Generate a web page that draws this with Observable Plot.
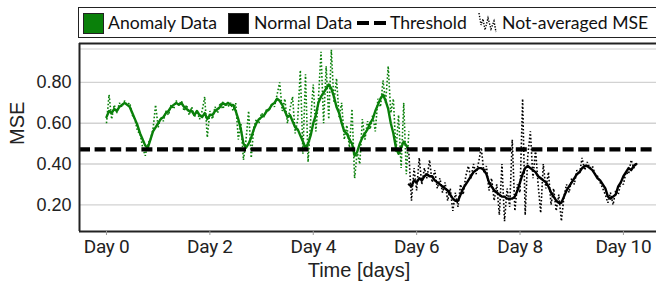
<!DOCTYPE html>
<html>
<head>
<meta charset="utf-8">
<script src="https://cdn.jsdelivr.net/npm/d3@7"></script>
<script src="https://cdn.jsdelivr.net/npm/@observablehq/plot@0.6"></script>
<style>
  html, body { margin: 0; padding: 0; background: #fff; }
  #wrap { width: 656px; height: 287px; overflow: hidden; position: relative; }
  #legend { position: relative; width: 656px; height: 40px; overflow: hidden; font-family: Lato, "Open Sans", sans-serif; color: #111; }
  #legend .box { position: absolute; left: 78px; top: 7px; width: 700px; height: 29px; border: 1.5px solid #222; }
  #legend .sw { position: absolute; top: 12.5px; width: 18.5px; height: 19.5px; border: 1px solid #222; }
  #legend .lbl { position: absolute; top: 13.6px; font-size: 17.6px; line-height: 18px; white-space: nowrap; }
  #legend svg { position: absolute; }
  .chart text { font-family: "Liberation Sans", Arial, sans-serif; }
  .chart g[aria-label="x-axis tick label"] text { font-family: Roboto, "Liberation Sans", sans-serif; font-size: 19px; fill: #222; letter-spacing: -0.3px; }
  .chart g[aria-label="y-axis tick label"] text { font-family: "Liberation Sans", Arial, sans-serif; font-size: 18px; fill: #222; }
</style>
</head>
<body>
<div id="wrap">
  <div id="legend"></div>
  <div id="chart"></div>
</div>
<script>
// ---------- data ----------
const anomalyDays = [0.00,0.05,0.10,0.15,0.20,0.25,0.30,0.35,0.40,0.45,0.50,0.55,0.60,0.65,0.70,0.75,0.80,0.85,0.90,0.95,1.00,1.05,1.10,1.15,1.20,1.25,1.30,1.35,1.40,1.45,1.50,1.55,1.60,1.65,1.70,1.75,1.80,1.85,1.90,1.95,2.00,2.05,2.10,2.15,2.20,2.25,2.30,2.35,2.40,2.45,2.50,2.55,2.60,2.65,2.70,2.75,2.80,2.85,2.90,2.95,3.00,3.05,3.10,3.15,3.20,3.25,3.30,3.35,3.40,3.45,3.50,3.55,3.60,3.65,3.70,3.75,3.80,3.85,3.90,3.95,4.00,4.05,4.10,4.15,4.20,4.25,4.30,4.35,4.40,4.45,4.50,4.55,4.60,4.65,4.70,4.75,4.80,4.85,4.90,4.95,5.00,5.05,5.10,5.15,5.20,5.25,5.30,5.35,5.40,5.45,5.50,5.55,5.60,5.65,5.70,5.75,5.80,5.85];
const anomalyAvg = [0.63,0.66,0.65,0.67,0.66,0.68,0.69,0.70,0.69,0.68,0.65,0.62,0.59,0.55,0.52,0.49,0.48,0.52,0.56,0.58,0.60,0.62,0.63,0.65,0.66,0.68,0.69,0.70,0.69,0.70,0.68,0.67,0.66,0.66,0.64,0.66,0.64,0.63,0.65,0.62,0.64,0.64,0.66,0.67,0.68,0.70,0.69,0.70,0.69,0.69,0.66,0.62,0.57,0.50,0.48,0.50,0.53,0.57,0.60,0.62,0.63,0.64,0.66,0.67,0.69,0.70,0.72,0.71,0.69,0.66,0.63,0.64,0.61,0.58,0.57,0.54,0.51,0.48,0.50,0.54,0.60,0.64,0.70,0.73,0.75,0.77,0.79,0.77,0.73,0.68,0.65,0.60,0.56,0.55,0.52,0.50,0.44,0.46,0.50,0.53,0.55,0.57,0.60,0.62,0.66,0.69,0.72,0.74,0.71,0.67,0.60,0.55,0.48,0.45,0.48,0.51,0.49,0.47];
const anomalyRaw = [0.60,0.74,0.62,0.69,0.65,0.70,0.68,0.71,0.69,0.70,0.64,0.62,0.56,0.55,0.48,0.44,0.50,0.52,0.57,0.69,0.58,0.63,0.61,0.66,0.64,0.69,0.67,0.71,0.69,0.71,0.66,0.69,0.64,0.68,0.63,0.66,0.62,0.66,0.73,0.53,0.66,0.62,0.68,0.65,0.70,0.67,0.70,0.68,0.70,0.66,0.70,0.52,0.60,0.42,0.52,0.66,0.43,0.58,0.62,0.60,0.65,0.63,0.67,0.66,0.70,0.68,0.74,0.80,0.66,0.72,0.60,0.67,0.73,0.55,0.62,0.86,0.45,0.84,0.41,0.62,0.79,0.56,0.72,0.95,0.60,0.88,0.62,0.96,0.70,0.82,0.63,0.70,0.52,0.59,0.48,0.67,0.33,0.46,0.40,0.62,0.52,0.61,0.57,0.64,0.56,0.72,0.68,0.81,0.70,0.88,0.65,0.72,0.46,0.64,0.38,0.70,0.35,0.56];

const normalDays = [5.85,5.90,5.95,6.00,6.05,6.10,6.15,6.20,6.25,6.30,6.35,6.40,6.45,6.50,6.55,6.60,6.65,6.70,6.75,6.80,6.85,6.90,6.95,7.00,7.05,7.10,7.15,7.20,7.25,7.30,7.35,7.40,7.45,7.50,7.55,7.60,7.65,7.70,7.75,7.80,7.85,7.90,7.95,8.00,8.05,8.10,8.15,8.20,8.25,8.30,8.35,8.40,8.45,8.50,8.55,8.60,8.65,8.70,8.75,8.80,8.85,8.90,8.95,9.00,9.05,9.10,9.15,9.20,9.25,9.30,9.35,9.40,9.45,9.50,9.55,9.60,9.65,9.70,9.75,9.80,9.85,9.90,9.95,10.00,10.05,10.10,10.15,10.20,10.25];
const normalAvg = [0.30,0.29,0.32,0.31,0.33,0.32,0.34,0.35,0.34,0.34,0.32,0.31,0.30,0.29,0.28,0.27,0.25,0.23,0.22,0.22,0.25,0.28,0.30,0.32,0.34,0.36,0.37,0.38,0.38,0.37,0.35,0.31,0.29,0.27,0.26,0.25,0.24,0.24,0.23,0.23,0.23,0.24,0.27,0.31,0.35,0.38,0.39,0.38,0.37,0.36,0.34,0.33,0.32,0.31,0.29,0.26,0.24,0.22,0.21,0.21,0.24,0.27,0.29,0.31,0.33,0.35,0.36,0.38,0.39,0.39,0.38,0.37,0.35,0.33,0.32,0.30,0.28,0.24,0.23,0.24,0.25,0.29,0.31,0.34,0.36,0.38,0.37,0.39,0.40];
const normalRaw = [0.45,0.22,0.38,0.27,0.43,0.30,0.38,0.33,0.42,0.31,0.37,0.28,0.33,0.26,0.31,0.22,0.28,0.17,0.26,0.19,0.30,0.25,0.34,0.39,0.33,0.40,0.35,0.41,0.48,0.36,0.39,0.27,0.33,0.22,0.30,0.15,0.40,0.12,0.28,0.19,0.52,0.17,0.30,0.26,0.72,0.15,0.44,0.56,0.33,0.47,0.30,0.16,0.40,0.28,0.36,0.20,0.28,0.17,0.25,0.12,0.24,0.30,0.26,0.33,0.30,0.37,0.35,0.43,0.37,0.41,0.38,0.39,0.35,0.34,0.31,0.28,0.25,0.21,0.26,0.20,0.27,0.25,0.31,0.30,0.36,0.35,0.42,0.38,0.41];

const threshold = 0.472;
const dayTicks = [0, 2, 4, 6, 8, 10];
const mseTicks = [0.2, 0.4, 0.6, 0.8];
const seriesNames = ["Anomaly Data", "Normal Data", "Threshold", "Not-averaged MSE"];
const xLabel = "Time [days]";
const yLabel = "MSE";

// ---------- styles ----------
const GREEN = "#0a800a";
const BLACK = "#000";
const xDomain = [-0.522, 10.64];
const yDomain = [0.069, 0.991];

const zip = (xs, ys) => xs.map((x, i) => ({x, y: ys[i]}));
const aAvg = zip(anomalyDays, anomalyAvg);
const nAvg = zip(normalDays, normalAvg);
const aRaw = zip(anomalyDays, anomalyRaw);
const nRaw = zip(normalDays, normalRaw);

const dotted = {strokeWidth: 1.6, strokeDasharray: "1.6,2", strokeLinecap: "butt", strokeLinejoin: "miter"};

const chart = Plot.plot({
  width: 656,
  height: 247,
  marginLeft: 79,
  marginRight: 0,
  marginTop: 3,
  marginBottom: 56,
  className: "chart",
  style: {background: "#fff", overflow: "visible", fontFamily: "'Liberation Sans', Arial, sans-serif"},
  x: {domain: xDomain},
  y: {domain: yDomain},
  marks: [
    Plot.ruleY(mseTicks, {stroke: "#d2d2d2", strokeWidth: 1.3}),
    Plot.ruleY([yDomain[1]], {stroke: "#cfcfcf", strokeWidth: 1.2, dy: 5.5}),
    Plot.line(aRaw, {x: "x", y: "y", stroke: GREEN, ...dotted}),
    Plot.line(aAvg, {x: "x", y: "y", stroke: GREEN, strokeWidth: 2.4, curve: "linear"}),
    Plot.line(nRaw, {x: "x", y: "y", stroke: BLACK, ...dotted}),
    Plot.line(nAvg, {x: "x", y: "y", stroke: BLACK, strokeWidth: 2.4, curve: "linear"}),
    Plot.ruleY([threshold], {stroke: "#000", strokeWidth: 4.2, strokeDasharray: "11,4.6"}),
    Plot.ruleX([xDomain[0]], {stroke: "#222", strokeWidth: 2}),
    Plot.ruleY([yDomain[0]], {stroke: "#222", strokeWidth: 2}),
    Plot.ruleY([yDomain[1]], {stroke: "#222", strokeWidth: 2}),
    Plot.axisX({ticks: dayTicks, tickFormat: d => "Day " + d, tickSize: 4, tickPadding: 4, stroke: "#999", label: null}),
    Plot.axisY({ticks: mseTicks, tickFormat: d => d.toFixed(2), tickSize: 0, tickPadding: 8, label: null}),
    Plot.text([xLabel], {frameAnchor: "bottom", dx: -9, dy: 45, fontSize: 20, fontFamily: "Roboto, 'Liberation Sans', sans-serif", fill: "#222"}),
    Plot.text([yLabel], {frameAnchor: "left", rotate: -90, dx: -62, dy: 7.5, fontSize: 20, fontFamily: "'Liberation Sans', Arial, sans-serif", fill: "#222"})
  ]
});
document.getElementById("chart").appendChild(chart);

// ---------- legend ----------
const legend = document.getElementById("legend");
legend.innerHTML = `
  <div class="box"></div>
  <div class="sw" style="left:83px;background:${GREEN}"></div>
  <div class="lbl" style="left:108px">${seriesNames[0]}</div>
  <div class="sw" style="left:228px;background:#000"></div>
  <div class="lbl" style="left:254px">${seriesNames[1]}</div>
  <svg style="left:356px;top:16px" width="34" height="14"><line x1="1" y1="7" x2="32" y2="7" stroke="#000" stroke-width="4" stroke-dasharray="12,5"/></svg>
  <div class="lbl" style="left:390px">${seriesNames[2]}</div>
  <svg style="left:476px;top:11px" width="22" height="24"><polyline points="3,2 5,14 7,8 9,19 12,7 15,18 18,10 20,21" fill="none" stroke="#000" stroke-width="1.4" stroke-dasharray="1.4,1.4"/></svg>
  <div class="lbl" style="left:502px">${seriesNames[3]}</div>
`;
</script>
</body>
</html>
